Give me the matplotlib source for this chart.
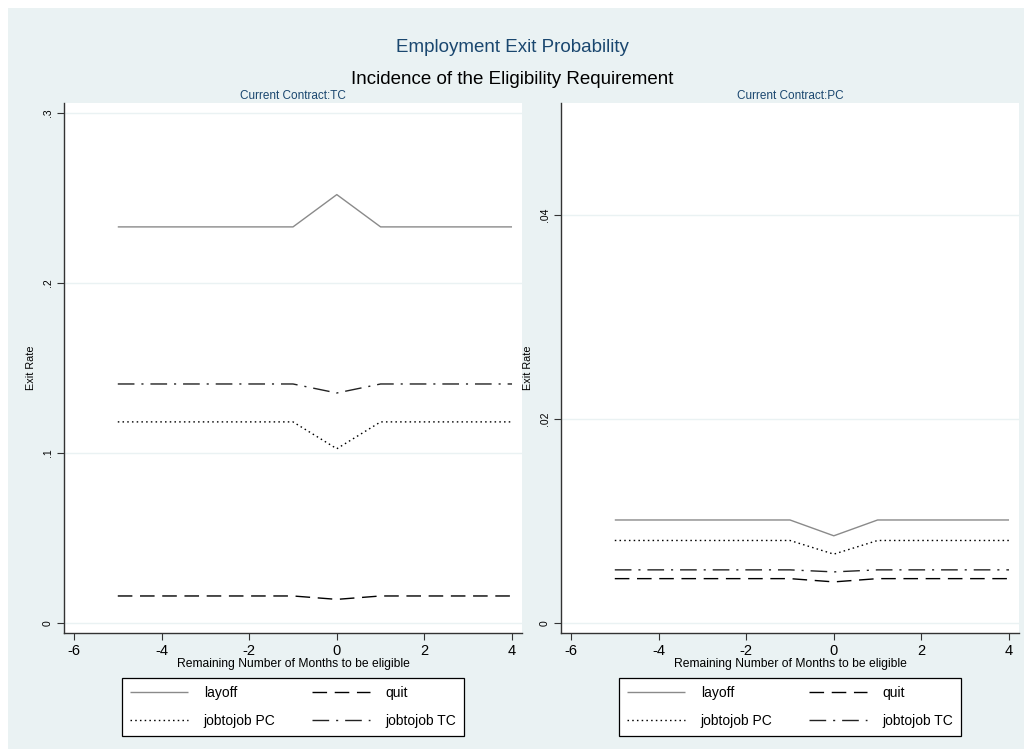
import matplotlib
matplotlib.use("Agg")
import matplotlib.pyplot as plt
from matplotlib.patches import Rectangle

plt.rcParams["font.family"] = ["Liberation Sans", "DejaVu Sans"]
plt.rcParams["lines.scale_dashes"] = False

# Months remaining until eligibility
months = [-5, -4, -3, -2, -1, 0, 1, 2, 3, 4]

# Current contract: TC
layoff_tc = [0.233, 0.233, 0.233, 0.233, 0.233, 0.252, 0.233, 0.233, 0.233, 0.233]
quit_tc = [0.0159, 0.0159, 0.0159, 0.0159, 0.0159, 0.0139, 0.0159, 0.0159, 0.0159, 0.0159]
j2j_pc_tc = [0.1183, 0.1183, 0.1183, 0.1183, 0.1183, 0.1025, 0.1183, 0.1183, 0.1183, 0.1183]
j2j_tc_tc = [0.1406, 0.1406, 0.1406, 0.1406, 0.1406, 0.1353, 0.1406, 0.1406, 0.1406, 0.1406]

# Current contract: PC
layoff_pc = [0.0101, 0.0101, 0.0101, 0.0101, 0.0101, 0.00855, 0.0101, 0.0101, 0.0101, 0.0101]
quit_pc = [0.00435, 0.00435, 0.00435, 0.00435, 0.00435, 0.00403, 0.00435, 0.00435, 0.00435, 0.00435]
j2j_pc_pc = [0.00809, 0.00809, 0.00809, 0.00809, 0.00809, 0.00675, 0.00809, 0.00809, 0.00809, 0.00809]
j2j_tc_pc = [0.00521, 0.00521, 0.00521, 0.00521, 0.00521, 0.00501, 0.00521, 0.00521, 0.00521, 0.00521]

x_ticks = [-6, -4, -2, 0, 2, 4]
y_ticks_tc = [0, 0.1, 0.2, 0.3]
y_labels_tc = ["0", ".1", ".2", ".3"]
y_ticks_pc = [0, 0.02, 0.04]
y_labels_pc = ["0", ".02", ".04"]

series_names = ["layoff", "quit", "jobtojob PC", "jobtojob TC"]

BG = "#eaf2f3"
NAVY = "#1a476f"
W, H = 1024, 749

styles = [
    dict(color="#8a8a8a", lw=1.0, ls="-"),
    dict(color="black", lw=1.0, ls=(0, (10.5, 5.5))),
    dict(color="black", lw=1.0, ls=(0, (1.1, 2.3))),
    dict(color="#222222", lw=1.0, ls=(0, (12, 5, 1.5, 5))),
]

fig = plt.figure(figsize=(W / 100, H / 100), dpi=100, facecolor="white")
fig.patches.append(Rectangle((8 / W, 0), 1 - 8 / W, (H - 8) / H,
                             transform=fig.transFigure, facecolor=BG,
                             edgecolor="none", zorder=-10))

fig.text(0.5, 1 - 48 / H, "Employment Exit Probability", ha="center",
         va="center", fontsize=13.5, color=NAVY)
fig.text(0.5, 1 - 80 / H, "Incidence of the Eligibility Requirement",
         ha="center", va="center", fontsize=13.5, color="black")


def panel(left_px, data, yticks, ylabels, ylim, title):
    ax = fig.add_axes([left_px / W, (H - 633) / H, 458 / W, 530 / H])
    ax.set_facecolor("white")
    for s in ("top", "right"):
        ax.spines[s].set_visible(False)
    for s in ("left", "bottom"):
        ax.spines[s].set_color("#333333")
        ax.spines[s].set_linewidth(1.0)
    ax.set_xlim(-6.228, 4.228)
    ax.set_ylim(*ylim)
    ax.set_xticks(x_ticks)
    ax.set_xticklabels([str(t) for t in x_ticks])
    ax.set_yticks(yticks)
    ax.set_yticklabels(ylabels, rotation=90, va="center")
    ax.tick_params(axis="x", length=5, width=0.8, colors="#333333",
                   labelsize=10.5, labelcolor="black", pad=3)
    ax.tick_params(axis="y", length=5, width=0.8, colors="#333333",
                   labelsize=7.5, labelcolor="black", pad=3)
    ax.grid(axis="y", color=BG, lw=1.0)
    ax.set_axisbelow(True)
    handles = {}
    for vals, st, name in zip(data, styles, series_names):
        (h,) = ax.plot(months, vals, label=name, solid_capstyle="butt",
                       dash_capstyle="butt", **st)
        handles[name] = h
    ax.set_title(title, fontsize=8.5, color=NAVY, pad=3)
    ax.set_xlabel("Remaining Number of Months to be eligible", fontsize=8.7,
                  labelpad=0)
    ax.set_ylabel("Exit Rate", fontsize=7.8, labelpad=5)
    # legend rows: layoff / quit on top, jobtojob pair below
    order = ["layoff", "jobtojob PC", "quit", "jobtojob TC"]
    leg = ax.legend([handles[n] for n in order], order, ncol=2, loc="center",
                    bbox_to_anchor=((left_px + 229) / W, 1 - 707 / H),
                    bbox_transform=fig.transFigure, fontsize=10,
                    frameon=True, fancybox=False, framealpha=1,
                    edgecolor="black", handlelength=4.2, handletextpad=1.1,
                    columnspacing=2.6, labelspacing=1.0, borderpad=0.6)
    leg.get_frame().set_linewidth(0.9)
    return ax


panel(64, [layoff_tc, quit_tc, j2j_pc_tc, j2j_tc_tc], y_ticks_tc,
      y_labels_tc, (-0.00588, 0.30588), "Current Contract:TC")
panel(561, [layoff_pc, quit_pc, j2j_pc_pc, j2j_tc_pc], y_ticks_pc,
      y_labels_pc, (-0.00098, 0.05098), "Current Contract:PC")

fig.savefig("out.png", dpi=100, facecolor=fig.get_facecolor())
